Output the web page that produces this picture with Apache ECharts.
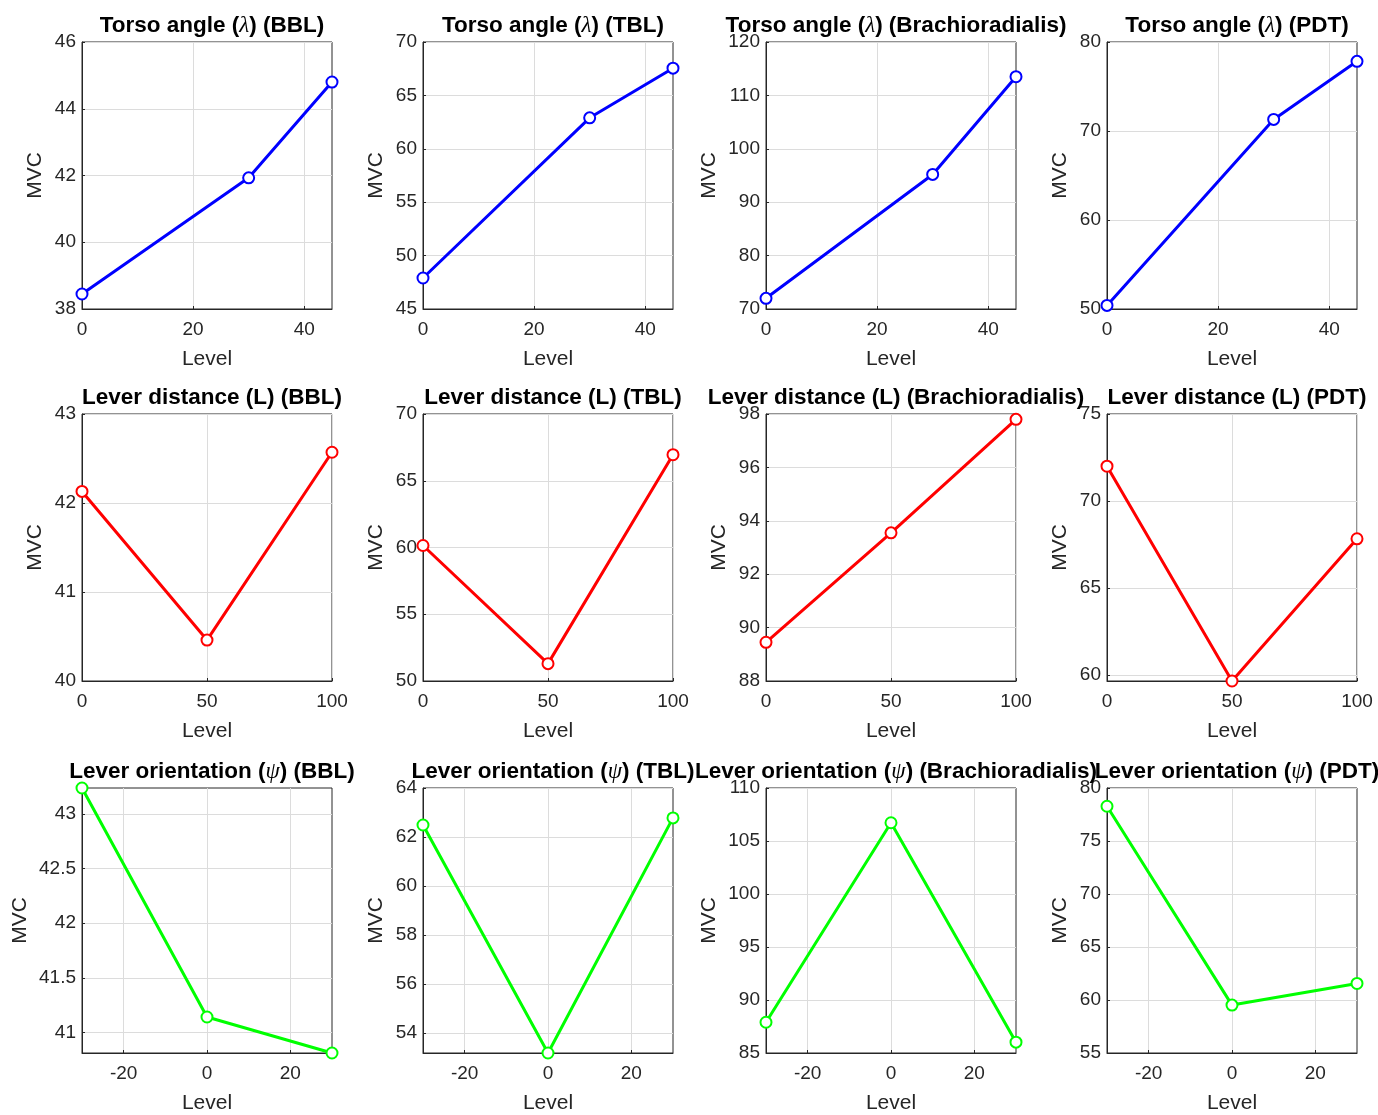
<!DOCTYPE html>
<html><head><meta charset="utf-8">
<script src="https://cdn.jsdelivr.net/npm/echarts@6/dist/echarts.min.js"></script>
<style>html,body{margin:0;padding:0;background:#fff}#c{width:1378px;height:1115px}</style>
</head><body><div id="c"></div>
<script>
// ---------- data ----------
const muscles = ['BBL', 'TBL', 'Brachioradialis', 'PDT'];
const rowNames = ['Torso angle', 'Lever distance', 'Lever orientation'];
const rowSymbols = ['λ', 'L', 'ψ'];
const rowSymbolGreek = [true, false, true];

// Row 1: Torso angle (λ)
const torsoLevels = [0, 30, 45];
const torsoBBL = [38.45, 41.93, 44.8];
const torsoTBL = [47.9, 62.9, 67.55];
const torsoBrachio = [72.0, 95.2, 113.5];
const torsoPDT = [50.4, 71.3, 77.83];

// Row 2: Lever distance (L)
const distLevels = [0, 50, 100];
const distBBL = [42.13, 40.46, 42.57];
const distTBL = [60.15, 51.3, 66.95];
const distBrachio = [89.45, 93.55, 97.8];
const distPDT = [72.0, 59.66, 67.83];

// Row 3: Lever orientation (ψ)
const orientLevels = [-30, 0, 30];
const orientBBL = [43.24, 41.14, 40.81];
const orientTBL = [62.49, 53.19, 62.78];
const orientBrachio = [87.9, 106.72, 86.02];
const orientPDT = [78.28, 59.52, 61.56];

// x-axis ranges and ticks per row
const torsoXRange = [0, 45];
const torsoXTicks = [0, 20, 40];
const distXRange = [0, 100];
const distXTicks = [0, 50, 100];
const orientXRange = [-30, 30];
const orientXTicks = [-20, 0, 20];

// y-axis ranges and ticks per panel
const torsoYRanges = [[38, 46], [45, 70], [70, 120], [50, 80]];
const torsoYTicks = [[38, 40, 42, 44, 46], [45, 50, 55, 60, 65, 70], [70, 80, 90, 100, 110, 120], [50, 60, 70, 80]];
const distYRanges = [[40, 43], [50, 70], [88, 98], [59.66, 75]];
const distYTicks = [[40, 41, 42, 43], [50, 55, 60, 65, 70], [88, 90, 92, 94, 96, 98], [60, 65, 70, 75]];
const orientYRanges = [[40.81, 43.24], [53.19, 64], [85, 110], [55, 80]];
const orientYTicks = [[41, 41.5, 42, 42.5, 43], [54, 56, 58, 60, 62, 64], [85, 90, 95, 100, 105, 110], [55, 60, 65, 70, 75, 80]];

const rowColors = ['#0000ff', '#ff0000', '#00ff00'];

// ---------- layout ----------
const colLeft = [82, 423, 766, 1107];
const rowTop = [42, 414, 788];
const plotW = 250, plotH = 267;
const mvcGap = [
  [36, 36, 46, 36],
  [36, 36, 36, 36],
  [51, 36, 46, 36]
];

const rows = [
  { levels: torsoLevels, vals: [torsoBBL, torsoTBL, torsoBrachio, torsoPDT], xr: torsoXRange, xt: torsoXTicks, yr: torsoYRanges, yt: torsoYTicks },
  { levels: distLevels, vals: [distBBL, distTBL, distBrachio, distPDT], xr: distXRange, xt: distXTicks, yr: distYRanges, yt: distYTicks },
  { levels: orientLevels, vals: [orientBBL, orientTBL, orientBrachio, orientPDT], xr: orientXRange, xt: orientXTicks, yr: orientYRanges, yt: orientYTicks }
];

const FONT = 'Liberation Sans, Arial, Helvetica, sans-serif';
const TXT = '#262626';
const GRIDC = '#dcdcdc';
const grids = [], xAxes = [], yAxes = [], series = [], titles = [];
let k = 0;
rows.forEach((row, r) => {
  muscles.forEach((m, c) => {
    grids.push({ left: colLeft[c], top: rowTop[r], width: plotW, height: plotH, show: true, borderColor: TXT, borderWidth: 1, backgroundColor: '#fff', containLabel: false });
    xAxes.push({
      type: 'value', gridIndex: k, min: row.xr[0], max: row.xr[1],
      name: 'Level', nameLocation: 'middle', nameGap: 40,
      nameTextStyle: { fontFamily: FONT, fontSize: 21, color: TXT },
      axisLine: { show: true, onZero: false, lineStyle: { color: TXT, width: 1 } },
      axisTick: { show: true, inside: true, length: 3, customValues: row.xt, lineStyle: { color: TXT } },
      axisLabel: { customValues: row.xt, fontFamily: FONT, fontSize: 19, color: TXT, margin: 11 },
      splitLine: { show: true, lineStyle: { color: GRIDC, width: 1 } }
    });
    yAxes.push({
      type: 'value', gridIndex: k, min: row.yr[c][0], max: row.yr[c][1],
      name: 'MVC', nameLocation: 'middle', nameGap: mvcGap[r][c],
      nameTextStyle: { fontFamily: FONT, fontSize: 21, color: TXT },
      axisLine: { show: true, onZero: false, lineStyle: { color: TXT, width: 1 } },
      axisTick: { show: true, inside: true, length: 3, customValues: row.yt[c], lineStyle: { color: TXT } },
      axisLabel: { customValues: row.yt[c], fontFamily: FONT, fontSize: 19, color: TXT, margin: 6 },
      splitLine: { show: true, lineStyle: { color: GRIDC, width: 1 } }
    });
    series.push({
      type: 'line', xAxisIndex: k, yAxisIndex: k, clip: false,
      data: row.levels.map((x, i) => [x, row.vals[c][i]]),
      symbol: 'emptyCircle', symbolSize: 11,
      lineStyle: { color: rowColors[r], width: 3 },
      itemStyle: { color: rowColors[r], borderColor: rowColors[r], borderWidth: 2.8 },
      z: 5
    });
    const sym = rowSymbolGreek[r] ? '{g|' + rowSymbols[r] + '}' : '{a|' + rowSymbols[r] + '}';
    titles.push({
      text: '{a|' + rowNames[r] + ' (}' + sym + '{a|) (' + m + ')}',
      left: colLeft[c] + plotW / 2, textAlign: 'center', top: rowTop[r] - 33,
      textStyle: {
        rich: {
          a: { fontFamily: FONT, fontWeight: 'bold', fontSize: 22.5, color: '#000', lineHeight: 24 },
          g: { fontFamily: 'Liberation Serif, DejaVu Serif, serif', fontStyle: 'italic', fontWeight: 'normal', fontSize: 23, color: '#000', lineHeight: 24 }
        }
      }
    });
    k++;
  });
});

const chart = echarts.init(document.getElementById('c'), null, { renderer: 'canvas' });
chart.setOption({
  animation: false,
  backgroundColor: '#fff',
  title: titles, grid: grids, xAxis: xAxes, yAxis: yAxes, series: series
});
</script></body></html>
